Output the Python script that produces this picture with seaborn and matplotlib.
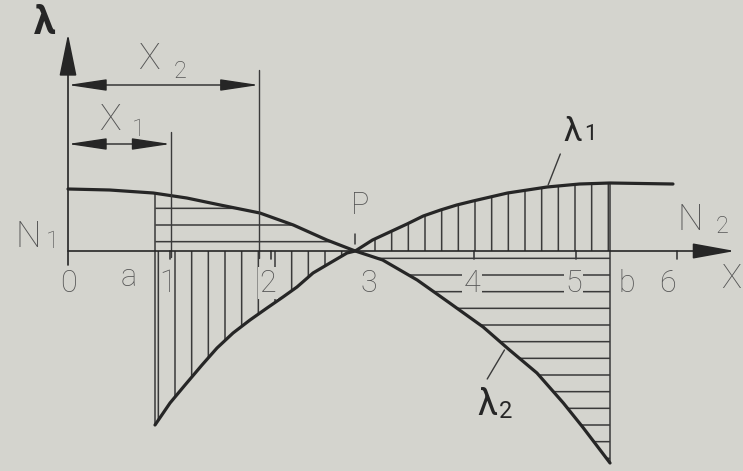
import numpy as np
import matplotlib
matplotlib.use("Agg")
import matplotlib.pyplot as plt
import seaborn as sns
import pandas as pd

sns.set_theme(style="white")
plt.rcParams["font.family"] = ["Roboto", "DejaVu Sans"]
plt.rcParams["hatch.linewidth"] = 1.1

# Friction coefficient curves along the contact (x in contact units)
x_lam1 = [0.857, 1.005, 1.153, 1.320, 1.468, 1.626, 1.793, 1.961, 2.118, 2.256, 2.414,
          2.581, 2.749, 2.83, 3.00, 3.17, 3.34, 3.50, 3.67, 3.83, 3.99, 4.33, 4.72,
          5.04, 5.34, 5.96]
lam1 = [-1.74, -1.52, -1.34, -1.14, -0.97, -0.82, -0.69, -0.57, -0.46, -0.36, -0.22,
        -0.12, -0.02, 0.00, 0.11, 0.19, 0.27, 0.35, 0.41, 0.46, 0.50, 0.58, 0.64,
        0.67, 0.68, 0.67]

x_lam2 = [0.00, 0.41, 0.84, 1.17, 1.50, 1.89, 2.22, 2.55, 2.83, 3.10, 3.44, 3.76,
          4.09, 4.35, 4.62, 4.88, 5.07, 5.34]
lam2 = [0.62, 0.61, 0.58, 0.53, 0.46, 0.38, 0.26, 0.11, 0.00, -0.09, -0.29, -0.52,
        -0.76, -0.99, -1.22, -1.52, -1.76, -2.12]

# Key abscissae
a_pos, b_pos, p_pos = 0.86, 5.34, 2.83
x1_pos, x2_pos = 1.01, 1.88
tick_vals = [1, 2, 4, 5, 6]
tick_labels = ["0", "a", "1", "2", "3", "4", "5", "b", "6"]
tick_label_x = [0.0, 0.60, 0.98, 1.97, 2.96, 3.98, 4.98, 5.51, 5.91]

BG = "#d4d4ce"
INK = "#262626"
THIN = "#3a3a3a"
LBL = "#555555"

fig = plt.figure(figsize=(7.43, 4.71), dpi=100, facecolor=BG)
ax = fig.add_axes([0, 0, 1, 1])
ax.set_facecolor(BG)
ax.set_xlim(-0.67, 6.65)
ax.set_ylim(-2.20, 2.51)
ax.axis("off")

df1 = pd.DataFrame({"x": x_lam1, "y": lam1})
df2 = pd.DataFrame({"x": x_lam2, "y": lam2})

# Hatched areas between each curve and the axis
def band(xs, ys, lo, hi):
    g = np.linspace(lo, hi, 200)
    return g, np.interp(g, xs, ys)

g, v = band(x_lam2, lam2, a_pos, p_pos)
ax.fill_between(g, v, 0, facecolor="none", edgecolor=THIN, hatch="-", linewidth=0)
g, v = band(x_lam1, lam1, a_pos, p_pos)
ax.fill_between(g, v, 0, facecolor="none", edgecolor=THIN, hatch="|", linewidth=0)
g, v = band(x_lam1, lam1, p_pos, b_pos)
ax.fill_between(g, v, 0, facecolor="none", edgecolor=THIN, hatch="|", linewidth=0)
g, v = band(x_lam2, lam2, p_pos, b_pos)
ax.fill_between(g, v, 0, facecolor="none", edgecolor=THIN, hatch="-", linewidth=0)

# Boundaries at a and b
ax.plot([a_pos, a_pos], [np.interp(a_pos, x_lam1, lam1), np.interp(a_pos, x_lam2, lam2)],
        color=THIN, lw=1.1)
ax.plot([b_pos, b_pos], [np.interp(b_pos, x_lam2, lam2), np.interp(b_pos, x_lam1, lam1)],
        color=THIN, lw=1.1)

# Curves
sns.lineplot(data=df1, x="x", y="y", ax=ax, color=INK, lw=2.3, sort=False)
sns.lineplot(data=df2, x="x", y="y", ax=ax, color=INK, lw=2.3, sort=False)

# Axes with arrows
ax.annotate("", xy=(0, 2.17), xytext=(0, -0.14),
            arrowprops=dict(arrowstyle="-|>,head_length=2.2,head_width=0.45",
                            color=INK, lw=1.2, shrinkA=0, shrinkB=0))
ax.annotate("", xy=(6.57, 0), xytext=(0, 0),
            arrowprops=dict(arrowstyle="-|>,head_length=2.2,head_width=0.4",
                            color=INK, lw=1.2, shrinkA=0, shrinkB=0))
for t in tick_vals:
    ax.plot([t, t], [0, -0.08], color=THIN, lw=1.2)
ax.plot([p_pos, p_pos], [0.07, 0.17], color=THIN, lw=1.1)

# Dimension lines X1, X2
ax.plot([x1_pos, x1_pos], [1.19, -0.06], color=THIN, lw=1.0)
ax.plot([x2_pos, x2_pos], [1.81, -0.07], color=THIN, lw=1.0)
for xe, yy in [(x1_pos, 1.07), (x2_pos, 1.66)]:
    ax.annotate("", xy=(xe, yy), xytext=(0, yy),
                arrowprops=dict(arrowstyle="<|-|>,head_length=2.0,head_width=0.3",
                                color=INK, lw=1.0, shrinkA=0, shrinkB=0))

# Leaders to curve labels
ax.plot([4.85, 4.73], [0.97, 0.66], color=THIN, lw=1.0)
ax.plot([4.13, 4.30], [-1.28, -0.99], color=THIN, lw=1.0)

# Tick labels
box = dict(boxstyle="square,pad=0.05", facecolor=BG, edgecolor="none")
for xl, s in zip(tick_label_x, tick_labels):
    yl = -0.26 if s == "a" else -0.32
    ax.text(xl, yl, s, fontsize=22, color=LBL, ha="center", va="center",
            fontweight="light", bbox=box if s in ("4", "5", "2") else None)
ax.text(6.53, -0.28, "X", fontsize=24, color=LBL, ha="center", va="center", fontweight="light")

# Letters
ax.text(-0.23, 2.27, "λ", fontsize=28, color=INK, ha="center", va="center", fontweight="bold")
ax.text(0.80, 1.92, "X", fontsize=26, color=LBL, ha="center", va="center", fontweight="light")
ax.text(1.10, 1.79, "2", fontsize=17, color=LBL, ha="center", va="center", fontweight="light")
ax.text(0.41, 1.31, "X", fontsize=26, color=LBL, ha="center", va="center", fontweight="light")
ax.text(0.69, 1.21, "1", fontsize=17, color=LBL, ha="center", va="center", fontweight="light")
ax.text(-0.39, 0.14, "N", fontsize=26, color=LBL, ha="center", va="center", fontweight="light")
ax.text(-0.15, 0.09, "1", fontsize=17, color=LBL, ha="center", va="center", fontweight="light")
ax.text(6.13, 0.31, "N", fontsize=26, color=LBL, ha="center", va="center", fontweight="light")
ax.text(6.44, 0.24, "2", fontsize=17, color=LBL, ha="center", va="center", fontweight="light")
ax.text(2.88, 0.46, "P", fontsize=22, color=LBL, ha="center", va="center", fontweight="light")
ax.text(4.97, 1.19, "λ", fontsize=24, color=INK, ha="center", va="center")
ax.text(5.15, 1.16, "1", fontsize=16, color=INK, ha="center", va="center")
ax.text(4.13, -1.54, "λ", fontsize=26, color=INK, ha="center", va="center")
ax.text(4.31, -1.61, "2", fontsize=17, color=INK, ha="center", va="center")

fig.savefig("out.png", dpi=100, facecolor=BG)
